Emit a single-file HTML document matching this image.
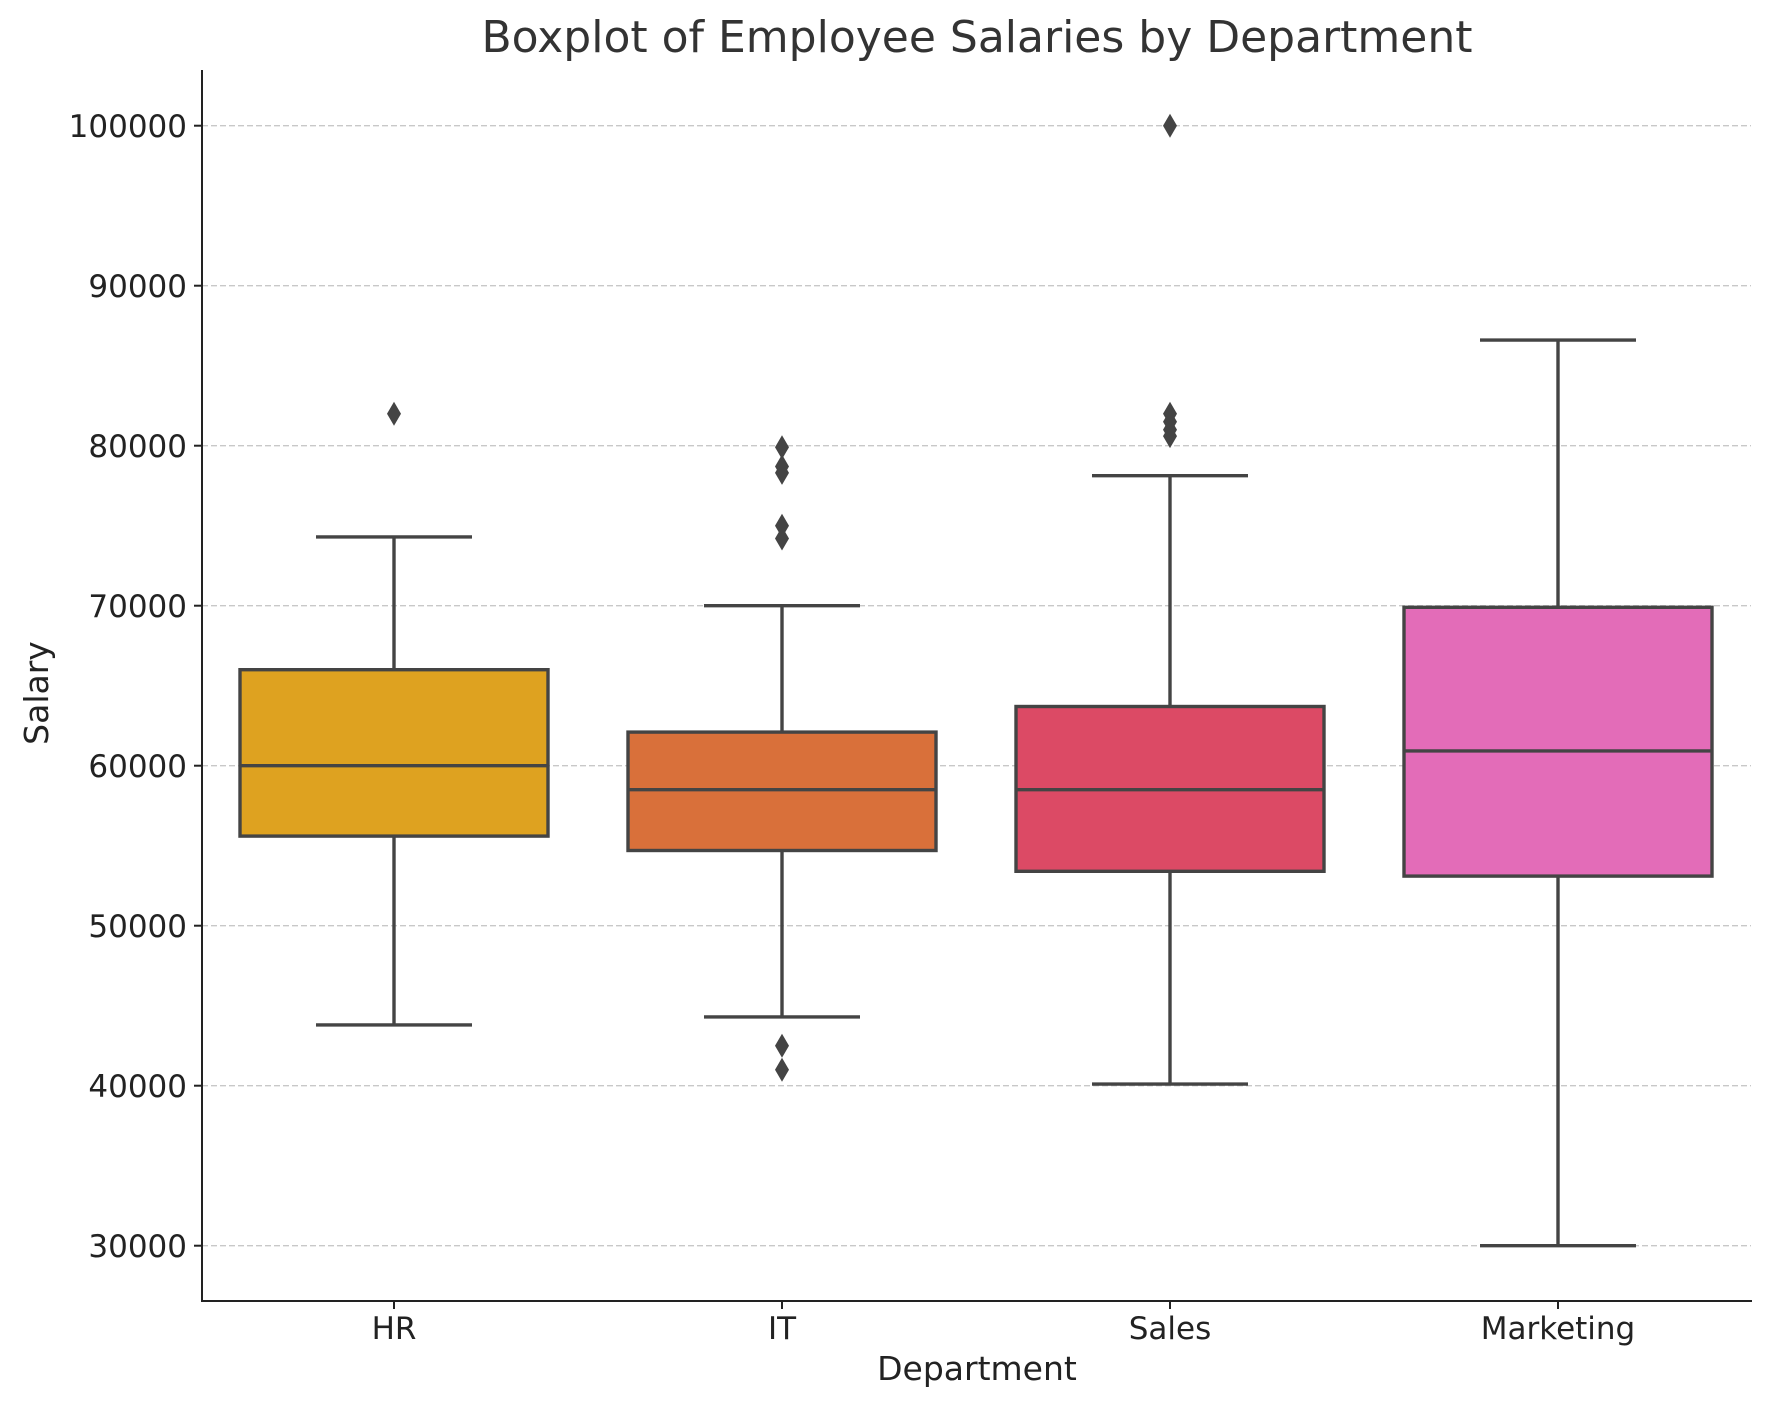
<!DOCTYPE html>
<html><head><style>body{margin:0;background:#fff}svg{display:block}text{font-family:"DejaVu Sans","Liberation Sans",sans-serif;fill:#222}</style></head>
<body>
<svg width="1771" height="1409" xmlns="http://www.w3.org/2000/svg">
<rect width="1771" height="1409" fill="#fff"/>
<g stroke="#c8c8c8" stroke-width="1.3" stroke-dasharray="6,3">
<line x1="202" x2="1751" y1="1245.7" y2="1245.7"/><line x1="202" x2="1751" y1="1085.7" y2="1085.7"/>
<line x1="202" x2="1751" y1="925.7" y2="925.7"/><line x1="202" x2="1751" y1="765.7" y2="765.7"/>
<line x1="202" x2="1751" y1="605.7" y2="605.7"/><line x1="202" x2="1751" y1="445.7" y2="445.7"/>
<line x1="202" x2="1751" y1="285.7" y2="285.7"/><line x1="202" x2="1751" y1="125.7" y2="125.7"/>
</g>
<g stroke="#444" stroke-width="3.4" fill="none">
<line x1="394" x2="394" y1="836.1" y2="1024.9"/><line x1="394" x2="394" y1="669.7" y2="536.9"/>
<line x1="316" x2="472" y1="1024.9" y2="1024.9"/><line x1="316" x2="472" y1="536.9" y2="536.9"/>
<rect x="240" y="669.7" width="308" height="166.4" fill="#dea220"/>
<line x1="240" x2="548" y1="765.7" y2="765.7"/>
<line x1="782" x2="782" y1="850.5" y2="1016.9"/><line x1="782" x2="782" y1="732.1" y2="605.7"/>
<line x1="704" x2="860" y1="1016.9" y2="1016.9"/><line x1="704" x2="860" y1="605.7" y2="605.7"/>
<rect x="628" y="732.1" width="308" height="118.4" fill="#d9703a"/>
<line x1="628" x2="936" y1="789.7" y2="789.7"/>
<line x1="1170" x2="1170" y1="871.3" y2="1084.1"/><line x1="1170" x2="1170" y1="706.5" y2="475.7"/>
<line x1="1092" x2="1248" y1="1084.1" y2="1084.1"/><line x1="1092" x2="1248" y1="475.7" y2="475.7"/>
<rect x="1016" y="706.5" width="308" height="164.8" fill="#dc4a65"/>
<line x1="1016" x2="1324" y1="789.7" y2="789.7"/>
<line x1="1558" x2="1558" y1="876.1" y2="1245.7"/><line x1="1558" x2="1558" y1="607.3" y2="340.1"/>
<line x1="1480" x2="1636" y1="1245.7" y2="1245.7"/><line x1="1480" x2="1636" y1="340.1" y2="340.1"/>
<rect x="1404" y="607.3" width="308" height="268.8" fill="#e36cb8"/>
<line x1="1404" x2="1712" y1="750.9" y2="750.9"/>
</g>
<g fill="#444">
<path d="M394,401.7 l7,12 l-7,12 l-7,-12z"/>
<path d="M782,435.3 l7,12 l-7,12 l-7,-12z"/><path d="M782,454.5 l7,12 l-7,12 l-7,-12z"/>
<path d="M782,460.9 l7,12 l-7,12 l-7,-12z"/><path d="M782,513.7 l7,12 l-7,12 l-7,-12z"/>
<path d="M782,526.5 l7,12 l-7,12 l-7,-12z"/><path d="M782,1033.7 l7,12 l-7,12 l-7,-12z"/>
<path d="M782,1057.7 l7,12 l-7,12 l-7,-12z"/>
<path d="M1170,113.7 l7,12 l-7,12 l-7,-12z"/><path d="M1170,401.7 l7,12 l-7,12 l-7,-12z"/>
<path d="M1170,409.7 l7,12 l-7,12 l-7,-12z"/><path d="M1170,417.7 l7,12 l-7,12 l-7,-12z"/>
<path d="M1170,424.1 l7,12 l-7,12 l-7,-12z"/>
</g>
<g stroke="#222" stroke-width="2">
<line x1="202" x2="202" y1="70" y2="1302"/><line x1="201" x2="1752" y1="1301" y2="1301"/>
<line x1="194" x2="202" y1="1245.7" y2="1245.7"/><line x1="194" x2="202" y1="1085.7" y2="1085.7"/>
<line x1="194" x2="202" y1="925.7" y2="925.7"/><line x1="194" x2="202" y1="765.7" y2="765.7"/>
<line x1="194" x2="202" y1="605.7" y2="605.7"/><line x1="194" x2="202" y1="445.7" y2="445.7"/>
<line x1="194" x2="202" y1="285.7" y2="285.7"/><line x1="194" x2="202" y1="125.7" y2="125.7"/>
<line x1="394" x2="394" y1="1301" y2="1309"/><line x1="782" x2="782" y1="1301" y2="1309"/>
<line x1="1170" x2="1170" y1="1301" y2="1309"/><line x1="1558" x2="1558" y1="1301" y2="1309"/>
</g>
<g font-size="31" text-anchor="end">
<text x="187" y="1257">30000</text><text x="187" y="1097">40000</text><text x="187" y="937">50000</text>
<text x="187" y="777">60000</text><text x="187" y="617">70000</text><text x="187" y="457">80000</text>
<text x="187" y="297">90000</text><text x="187" y="137">100000</text>
</g>
<g font-size="31" text-anchor="middle">
<text x="394" y="1339">HR</text><text x="782" y="1339">IT</text><text x="1170" y="1339">Sales</text><text x="1558" y="1339">Marketing</text>
<text x="977" y="1380" font-size="33">Department</text>
<text transform="translate(48,693) rotate(-90)" font-size="33">Salary</text>
<text x="977" y="52" font-size="44" style="fill:#333">Boxplot of Employee Salaries by Department</text>
</g>
</svg>
</body></html>
